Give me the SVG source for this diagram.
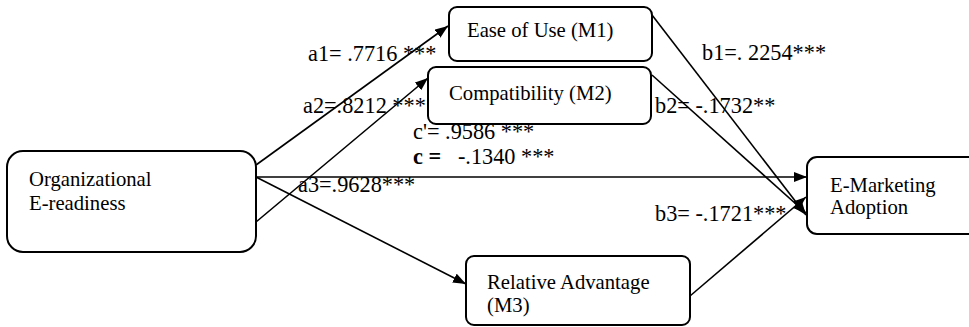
<svg xmlns="http://www.w3.org/2000/svg" width="969" height="327" viewBox="0 0 969 327">
<style>
text{font-family:"Liberation Serif","Times New Roman",serif;fill:#000}
.box{fill:#fff;stroke:#000;stroke-width:2}
.t{font-size:20.7px}
.lbl{font-size:22.3px}
.con{stroke:#000;stroke-width:1.6;fill:none;marker-end:url(#ah)}
</style>
<defs>
<marker id="ah" markerUnits="userSpaceOnUse" markerWidth="13" markerHeight="10" refX="13" refY="5" orient="auto">
<path d="M0,0 L13,5 L0,10 z" fill="#000"/>
</marker>
</defs>
<rect width="969" height="327" fill="#fff"/>
<g id="connectors">
<path class="con" d="M256,165 L448,26"/>
<path class="con" d="M256,222 L428,78"/>
<path class="con" d="M256,177 L807,177"/>
<path class="con" d="M256,177 L466,284"/>
<path class="con" d="M652,15 L806,215"/>
<path class="con" d="M652,75 L806,213"/>
<path class="con" d="M690,296 L806,197"/>
</g>
<g id="node-org">
<rect class="box" x="7" y="151" width="249" height="101" rx="16"/>
<text class="t" x="29" y="186">Organizational</text>
<text class="t" x="29" y="210">E-readiness</text>
</g>
<g id="node-m1">
<rect class="box" x="449" y="7" width="203" height="54" rx="8"/>
<text class="t" x="467" y="37">Ease of Use (M1)</text>
</g>
<g id="node-m2">
<rect class="box" x="428" y="67" width="223" height="57" rx="8"/>
<text class="t" x="449" y="100">Compatibility (M2)</text>
</g>
<g id="node-m3">
<rect class="box" x="466" y="256" width="224" height="69" rx="8"/>
<text class="t" x="487" y="289">Relative Advantage</text>
<text class="t" x="487" y="312">(M3)</text>
</g>
<g id="node-emkt">
<rect class="box" x="807" y="157" width="190" height="77" rx="10"/>
<text class="t" x="830" y="192">E-Marketing</text>
<text class="t" x="830" y="214">Adoption</text>
</g>
<g id="labels">
<text class="lbl" x="308" y="61" xml:space="preserve">a1= .7716 ***</text>
<text class="lbl" x="303" y="113">a2=.8212 ***</text>
<text class="lbl" x="413" y="139">c'= .9586 ***</text>
<text class="lbl" x="413" y="164" xml:space="preserve"><tspan font-weight="bold">c =</tspan>   -.1340 ***</text>
<text class="lbl" x="298" y="192">a3=.9628***</text>
<text class="lbl" x="702" y="60">b1=. 2254***</text>
<text class="lbl" x="655" y="113">b2= -.1732**</text>
<text class="lbl" x="655" y="221">b3= -.1721***</text>
</g>
</svg>
